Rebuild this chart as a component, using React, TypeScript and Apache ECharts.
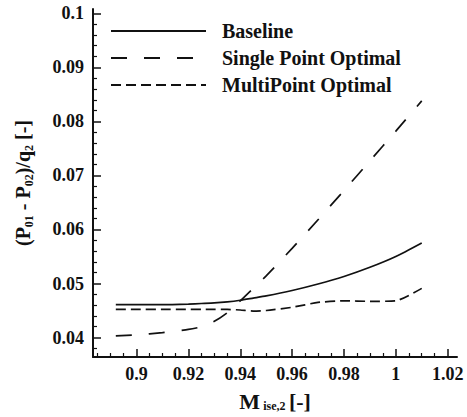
import React, { useEffect, useRef } from "react";
import * as echarts from "echarts";

const machX = [0.892, 0.9, 0.91, 0.92, 0.925, 0.93, 0.935, 0.94, 0.945, 0.95, 0.96, 0.97, 0.98, 0.99, 1.0, 1.01];
const baseline = [0.0461, 0.0461, 0.0461, 0.0462, 0.0463, 0.0464, 0.0466, 0.0469, 0.0473, 0.0477, 0.0487, 0.0499, 0.0513, 0.053, 0.055, 0.0575];
const singlePoint = [0.0403, 0.0405, 0.0409, 0.0415, 0.042, 0.043, 0.0446, 0.0468, 0.0491, 0.0514, 0.0565, 0.0618, 0.0672, 0.0727, 0.0782, 0.0838];
const multiPoint = [0.0452, 0.0452, 0.0452, 0.0452, 0.0452, 0.0452, 0.0452, 0.0451, 0.0449, 0.045, 0.0456, 0.0465, 0.0468, 0.0467, 0.0468, 0.0491];

const seriesNames = ["Baseline", "Single Point Optimal", "MultiPoint Optimal"];
const xMajorTicks = [0.9, 0.92, 0.94, 0.96, 0.98, 1.0, 1.02];
const xMinorTicks = [0.885, 0.89, 0.895, 0.905, 0.91, 0.915, 0.925, 0.93, 0.935, 0.945, 0.95, 0.955, 0.965, 0.97, 0.975, 0.985, 0.99, 0.995, 1.005, 1.01, 1.015];
const yMajorTicks = [0.04, 0.05, 0.06, 0.07, 0.08, 0.09, 0.1];
const yMinorTicks = [0.038, 0.042, 0.044, 0.046, 0.048, 0.052, 0.054, 0.056, 0.058, 0.062, 0.064, 0.066, 0.068, 0.072, 0.074, 0.076, 0.078, 0.082, 0.084, 0.086, 0.088, 0.092, 0.094, 0.096, 0.098];

const X_MIN = 0.8832;
const X_MAX = 1.0236;
const Y_MIN = 0.0364;
const Y_MAX = 0.1008;

const FONT = "Liberation Serif";
const INK = "#111";

const fmt = (v: number) => String(+Number(v).toFixed(3));

export default function App() {
  const ref = useRef<HTMLDivElement>(null);
  useEffect(() => {
    document.body.style.margin = "0";
    if (!ref.current) return;
    const chart = echarts.init(ref.current, undefined, { renderer: "svg" });
    const zip = (ys: number[]) => machX.map((x, i) => [x, ys[i]]);
    const labelStyle = { fontFamily: FONT, fontWeight: "bold", fontSize: 18, color: INK };
    chart.setOption({
      animation: false,
      backgroundColor: "#fff",
      grid: { left: 93, right: 10, top: 9, bottom: 60, containLabel: false },
      legend: {
        orient: "vertical",
        left: 110,
        top: 21,
        padding: 0,
        itemWidth: 95,
        itemHeight: 14,
        itemGap: 7,
        data: seriesNames,
        itemStyle: { opacity: 0 },
        textStyle: { fontFamily: FONT, fontWeight: "bold", fontSize: 20, color: INK, lineHeight: 20, padding: [0, 0, 0, 11] },
      },
      xAxis: [
        {
          type: "value",
          min: X_MIN,
          max: X_MAX,
          position: "bottom",
          axisLine: { show: true, lineStyle: { color: INK, width: 2 } },
          axisTick: { show: true, inside: true, length: 8, customValues: xMajorTicks, lineStyle: { color: INK, width: 1.5 } },
          axisLabel: { show: true, customValues: xMajorTicks, formatter: fmt, margin: 8, ...labelStyle },
          splitLine: { show: false },
          name: "{m|M} {s|ise,2} {m|[-]}",
          nameLocation: "middle",
          nameGap: 31,
          nameTextStyle: {
            rich: {
              m: { fontFamily: FONT, fontWeight: "bold", fontSize: 22, color: INK, lineHeight: 24, verticalAlign: "bottom" },
              s: { fontFamily: FONT, fontWeight: "bold", fontSize: 12, color: INK, lineHeight: 12, verticalAlign: "bottom" },
            },
          },
        },
        {
          type: "value",
          min: X_MIN,
          max: X_MAX,
          position: "bottom",
          axisLine: { show: false },
          axisTick: { show: true, inside: true, length: 4, customValues: xMinorTicks, lineStyle: { color: INK, width: 1.2 } },
          axisLabel: { show: false },
          splitLine: { show: false },
        },
      ],
      yAxis: [
        {
          type: "value",
          min: Y_MIN,
          max: Y_MAX,
          position: "left",
          axisLine: { show: true, lineStyle: { color: INK, width: 2 } },
          axisTick: { show: true, inside: true, length: 8, customValues: yMajorTicks, lineStyle: { color: INK, width: 1.5 } },
          axisLabel: { show: true, customValues: yMajorTicks, formatter: fmt, margin: 9, ...labelStyle },
          splitLine: { show: false },
          name: "(P{s|01} - P{s|02})/q{s|2} [-]",
          nameLocation: "middle",
          nameGap: 58,
          nameRotate: 90,
          nameTextStyle: {
            fontFamily: FONT,
            fontWeight: "bold",
            fontSize: 20,
            color: INK,
            rich: {
              s: { fontFamily: FONT, fontWeight: "bold", fontSize: 12, color: INK, lineHeight: 12, verticalAlign: "bottom" },
            },
            lineHeight: 24,
          },
        },
        {
          type: "value",
          min: Y_MIN,
          max: Y_MAX,
          position: "left",
          axisLine: { show: false },
          axisTick: { show: true, inside: true, length: 4, customValues: yMinorTicks, lineStyle: { color: INK, width: 1.2 } },
          axisLabel: { show: false },
          splitLine: { show: false },
        },
      ],
      series: [
        {
          name: seriesNames[0],
          type: "line",
          data: zip(baseline),
          showSymbol: false,
          symbol: "none",
          smooth: 0.2,
          lineStyle: { color: INK, width: 1.7, type: "solid" },
          itemStyle: { color: INK },
        },
        {
          name: seriesNames[1],
          type: "line",
          data: zip(singlePoint),
          showSymbol: false,
          symbol: "none",
          smooth: 0.2,
          lineStyle: { color: INK, width: 1.7, type: [16, 17] },
          itemStyle: { color: INK },
        },
        {
          name: seriesNames[2],
          type: "line",
          data: zip(multiPoint),
          showSymbol: false,
          symbol: "none",
          smooth: 0.2,
          lineStyle: { color: INK, width: 1.7, type: [10, 5] },
          itemStyle: { color: INK },
        },
      ],
    });
    return () => chart.dispose();
  }, []);
  return <div ref={ref} style={{ width: 467, height: 417 }} />;
}
